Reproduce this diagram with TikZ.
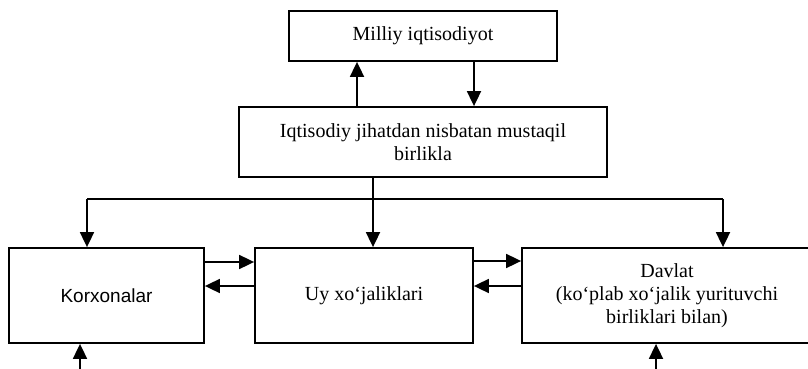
\documentclass[tikz,border=0pt]{standalone}
\usepackage{fontspec}
\setmainfont{Liberation Serif}
\newfontfamily\arialf{Liberation Sans}
\usetikzlibrary{arrows.meta}
\tikzset{
  boxst/.style={draw, line width=1.8pt, align=center, font=\fontsize{20}{23}\selectfont, inner sep=0pt},
  arr/.style={line width=1.8pt, -{Triangle[length=15pt,width=14pt]}},
  ln/.style={line width=1.8pt}
}
\begin{document}
\begin{tikzpicture}[x=1pt,y=-1pt]
\useasboundingbox (0,0) rectangle (808,369);
\clip (0,0) rectangle (808,369);
\node[boxst, minimum width=268pt, minimum height=50pt] (top) at (423,36) {Milliy iqtisodiyot};
\node[boxst, minimum width=368pt, minimum height=70pt] (mid) at (423,142) {Iqtisodiy jihatdan nisbatan mustaqil\\birlikla};
\node[boxst, minimum width=195pt, minimum height=95pt, font=\arialf\fontsize{19}{23}\selectfont] (korx) at (106.5,295.5) {Korxonalar};
\node[boxst, minimum width=218pt, minimum height=95pt] (uy) at (364,295.5) {Uy xo‘jaliklari};
\node[boxst, minimum width=290pt, minimum height=95pt] (dav) at (667,295.5) {Davlat\\(ko‘plab xo‘jalik yurituvchi\\birliklari bilan)};
% top connections
\draw[arr] (mid.north -| 357,0) -- (top.south -| 357,0);
\draw[arr] (top.south -| 474,0) -- (mid.north -| 474,0);
% branch
\coordinate (j) at (373,199);
\coordinate (jl) at (87,199);
\coordinate (jr) at (723,199);
\draw[ln] (mid.south -| j) -- (j);
\draw[ln] (jl) -- (jr);
\draw[arr] (j) -- (j |- uy.north);
\draw[arr] (jl) -- (jl |- korx.north);
\draw[arr] (jr) -- (jr |- dav.north);
% side arrows
\draw[arr] (korx.east |- 0,262) -- (uy.west |- 0,262);
\draw[arr] (uy.west |- 0,286) -- (korx.east |- 0,286);
\draw[arr] (uy.east |- 0,261) -- (dav.west |- 0,261);
\draw[arr] (dav.west |- 0,286) -- (uy.east |- 0,286);
% inputs from below
\coordinate (in1) at (80,372);
\coordinate (in2) at (656,372);
\draw[arr] (in1) -- (in1 |- korx.south);
\draw[arr] (in2) -- (in2 |- dav.south);
\end{tikzpicture}
\end{document}
